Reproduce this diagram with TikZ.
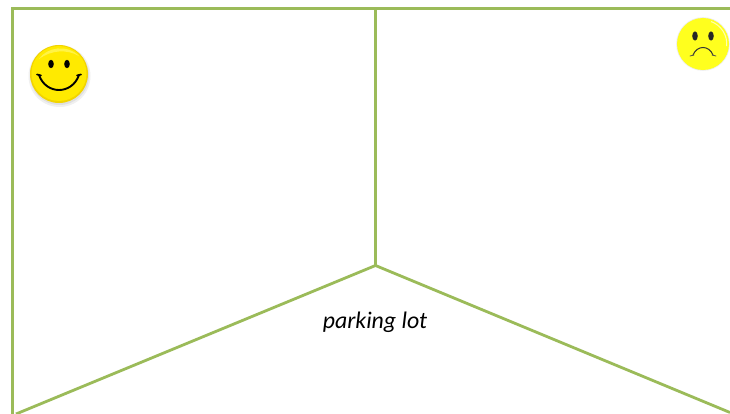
\documentclass[tikz,border=0pt]{standalone}
\usepackage{fontspec}
\setmainfont{Carlito}
\begin{document}
\begin{tikzpicture}[x=1pt,y=-1pt,
  wall/.style={draw=wallgreen,line width=2.8pt},
  lbl/.style={inner sep=0pt,font=\fontsize{23.8}{28}\selectfont\itshape}]
\definecolor{wallgreen}{HTML}{9BBB59}
\definecolor{smileyellow}{HTML}{FFEA00}
\definecolor{rimyellow}{HTML}{F2D400}
\definecolor{sadyellow}{HTML}{FFFF1E}
\useasboundingbox (0,0) rectangle (730,414);
\fill[white] (0,0) rectangle (730,414);
\coordinate (tl) at (12.5,8.5);
\coordinate (tr) at (730,8.5);
\coordinate (bl) at (12.5,414);
\coordinate (tc) at (375.5,8.5);
\coordinate (j) at (375.5,265.5);
\coordinate (fl) at (16,414);
\coordinate (fr) at (730,412.5);
\draw[wall] (bl) -- (tl) -- (tr);
\draw[wall] (tc) -- (j);
\draw[wall,line join=bevel] (fl) -- (j) -- (fr);
\node[lbl] (park) at (375,322) {parking lot};
% happy face
\begin{scope}[shift={(59,74)}]
\fill[black!6] (0.5,2) circle (31);
\fill[black!12] (0.5,1.5) circle (29.5);
\fill[rimyellow] (0,0) circle (29);
\fill[smileyellow] (0,-0.5) circle (27.5);
\fill[yellow!60!white,opacity=.7] (-20,-15) .. controls (-12,-27) and (8,-30) .. (20,-18) .. controls (8,-25) and (-8,-24) .. (-20,-15) -- cycle;
\fill[black] (-8,-10) ellipse (2.8 and 4.2);
\fill[black] (8,-10) ellipse (2.8 and 4.2);
\draw[black,line width=1.9pt,line cap=round] (-20,1) .. controls (-13,21) and (13,21) .. (20,1);
\draw[black,line width=1.7pt,line cap=round] (-22,0.5) -- (-18,1.5);
\draw[black,line width=1.7pt,line cap=round] (22,0.5) -- (18,1.5);
\end{scope}
% sad face
\begin{scope}[shift={(703,44)}]
\fill[black!7] (0,0) circle (26.8);
\fill[sadyellow] (0,0) circle (26);
\draw[white,opacity=.65,line width=1pt] (8,-22.5) arc (-70:5:24);
\fill[black!85] (-8,-8) ellipse (2.8 and 4.6);
\fill[black!85] (8,-8) ellipse (2.8 and 4.6);
\draw[black!80,line width=1pt,line cap=round] (-10,11) .. controls (-6,1) and (6,1) .. (10,11);
\draw[black!70,line width=.8pt,line cap=round] (-13,12) -- (-9,11);
\draw[black!70,line width=.8pt,line cap=round] (13,12) -- (9,11);
\end{scope}
\end{tikzpicture}
\end{document}
